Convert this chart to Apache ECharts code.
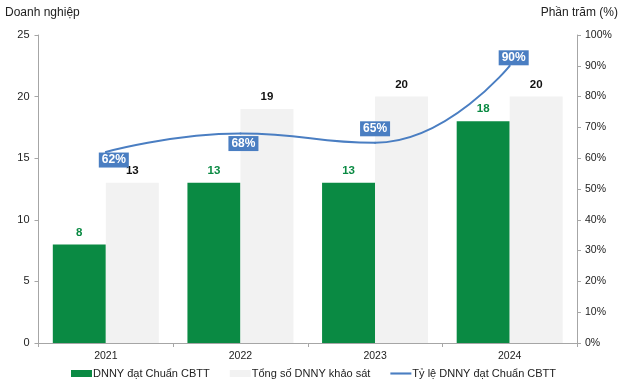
<!DOCTYPE html>
<html><head><meta charset="utf-8">
<script src="https://cdn.jsdelivr.net/npm/echarts@6/dist/echarts.min.js"></script>
<style>html,body{margin:0;padding:0;background:#fff}#c{width:624px;height:389px}</style>
</head><body><div id="c"></div>
<script>
const categories = ['2021', '2022', '2023', '2024'];
const datChuan = [8, 13, 13, 18];
const tongSo = [13, 19, 20, 20];
const tyLe = [62, 68, 65, 90];
const leftTicks = [0, 5, 10, 15, 20, 25];
const rightTicks = [0, 10, 20, 30, 40, 50, 60, 70, 80, 90, 100];
const labelOffsets = [[8, 8], [3, 10], [0, -14], [4, -8]];

const FONT = 'Liberation Sans';
const BLUE = '#4a7ec2';
const chart = echarts.init(document.getElementById('c'));
chart.setOption({
  animation: false,
  textStyle: { fontFamily: FONT },
  grid: { left: 38.5, right: 47, top: 35, bottom: 46 },
  graphic: [
    { type: 'text', left: 5, top: 7, style: { text: 'Doanh nghiệp', font: '12px ' + FONT, fill: '#222' } },
    { type: 'text', right: 6, top: 7, style: { text: 'Phần trăm (%)', font: '12px ' + FONT, fill: '#222' } }
  ],
  legend: {
    bottom: 5, left: 66, itemGap: 20, itemWidth: 21, itemHeight: 7,
    textStyle: { fontSize: 11, color: '#222', fontFamily: FONT, padding: [0, 0, 0, -4] },
    data: [
      { name: 'DNNY đạt Chuẩn CBTT', icon: 'rect' },
      { name: 'Tổng số DNNY khảo sát', icon: 'rect' },
      { name: 'Tỷ lệ DNNY đạt Chuẩn CBTT', icon: 'path://M0,0 L20,0 L20,2 L0,2 Z', itemStyle: { color: BLUE, opacity: 1 } }
    ]
  },
  xAxis: {
    type: 'category', data: categories,
    axisLine: { lineStyle: { color: '#a6a6a6' } },
    axisTick: { show: true, length: 4, lineStyle: { color: '#a6a6a6' } },
    axisLabel: { color: '#222', fontSize: 10.5, margin: 8, fontFamily: FONT }
  },
  yAxis: [
    {
      type: 'value', min: leftTicks[0], max: leftTicks[leftTicks.length - 1], interval: 5,
      axisLine: { show: true, lineStyle: { color: '#a6a6a6' } },
      axisTick: { show: true, length: 4, lineStyle: { color: '#a6a6a6' } },
      splitLine: { show: false },
      axisLabel: { color: '#222', fontSize: 11, margin: 9, fontFamily: FONT }
    },
    {
      type: 'value', min: rightTicks[0], max: rightTicks[rightTicks.length - 1], interval: 10,
      axisLine: { show: true, lineStyle: { color: '#a6a6a6' } },
      axisTick: { show: true, length: 4, lineStyle: { color: '#a6a6a6' } },
      splitLine: { show: false },
      axisLabel: { color: '#222', fontSize: 10.5, margin: 8, formatter: '{value}%', fontFamily: FONT }
    }
  ],
  series: [
    {
      name: 'DNNY đạt Chuẩn CBTT', type: 'bar', data: datChuan, barWidth: 53, barGap: '0%',
      itemStyle: { color: '#0a8a43' },
      label: { show: true, position: 'top', distance: 6, color: '#0a8a43', fontWeight: 'bold', fontSize: 11.5, fontFamily: FONT }
    },
    {
      name: 'Tổng số DNNY khảo sát', type: 'bar', data: tongSo, barWidth: 53, barGap: '0%',
      itemStyle: { color: '#f2f2f2' },
      label: { show: true, position: 'top', distance: 6, color: '#111', fontWeight: 'bold', fontSize: 11.5, fontFamily: FONT }
    },
    {
      name: 'Tỷ lệ DNNY đạt Chuẩn CBTT', type: 'line', yAxisIndex: 1, smooth: 0.5,
      symbol: 'circle', symbolSize: 2, showSymbol: true, showAllSymbol: true, z: 5,
      lineStyle: { color: BLUE, width: 2 },
      itemStyle: { color: BLUE },
      data: tyLe.map((v, i) => ({
        value: v,
        label: { offset: labelOffsets[i] }
      })),
      label: {
        show: true, position: 'inside', formatter: '{c}%',
        backgroundColor: BLUE, color: '#fff', fontWeight: 'bold', fontSize: 12,
        padding: [2, 3, 1, 3], fontFamily: FONT
      }
    }
  ]
});
</script></body></html>
